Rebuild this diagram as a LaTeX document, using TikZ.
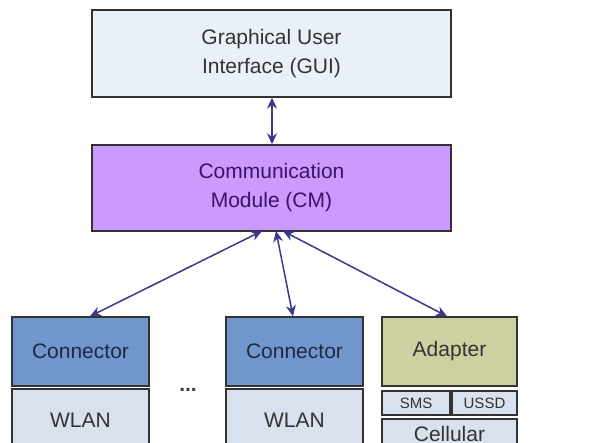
\documentclass[tikz,border=0pt]{standalone}
\usepackage{fontspec}
\setmainfont{Liberation Sans}
\usetikzlibrary{arrows.meta}
\definecolor{bordc}{HTML}{333333}
\definecolor{guifill}{HTML}{EAF0F7}
\definecolor{cmfill}{HTML}{CC99FF}
\definecolor{cmtext}{HTML}{3A1464}
\definecolor{confill}{HTML}{7096CC}
\definecolor{context}{HTML}{1E2A44}
\definecolor{wlanfill}{HTML}{D9E0EE}
\definecolor{adfill}{HTML}{CDD0A0}
\definecolor{arrc}{HTML}{3B3A8A}
\tikzset{
  box/.style={draw=bordc, line width=1.4pt, inner sep=0pt, align=center,
    font=\fontsize{21}{29}\selectfont, text=black!80},
  link/.style={draw=arrc, line width=1.5pt, {Stealth[length=11pt,width=10pt]}-{Stealth[length=11pt,width=10pt]}}
}
\begin{document}
\begin{tikzpicture}[x=1pt,y=-1pt]
\useasboundingbox (0,0) rectangle (592,443);
\fill[white] (0,0) rectangle (592,443);
% top boxes
\node[box, fill=guifill, minimum width=359pt, minimum height=87pt] (gui) at (271.5,53.5) {Graphical User\\Interface (GUI)};
\node[box, fill=cmfill, text=cmtext, minimum width=359pt, minimum height=86pt] (cm) at (271.5,188) {Communication\\Module (CM)};
% bottom left
\node[box, fill=confill, text=context, minimum width=137pt, minimum height=69pt] (con1) at (80.5,351.5) {Connector};
\node[box, fill=wlanfill, minimum width=137pt, minimum height=62pt] (wlan1) at (80.5,420) {WLAN};
\node[box, fill=confill, text=context, minimum width=137pt, minimum height=69pt] (con2) at (294.5,351.5) {Connector};
\node[box, fill=wlanfill, minimum width=137pt, minimum height=62pt] (wlan2) at (294.5,420) {WLAN};
\node[font=\bfseries\fontsize{21}{21}\selectfont, text=black!75] (dots) at (188,390) {...};
% adapter stack
\node[box, fill=adfill, minimum width=135pt, minimum height=69pt] (ad) at (449.5,351.5) {Adapter};
\node[box, fill=wlanfill, minimum width=68pt, minimum height=24pt, font=\fontsize{15}{15}\selectfont] (sms) at (416,403) {SMS};
\node[box, fill=wlanfill, minimum width=65pt, minimum height=24pt, font=\fontsize{15}{15}\selectfont] (ussd) at (484.5,403) {USSD};
\node[box, fill=wlanfill, minimum width=135pt, minimum height=30pt] (cell) at (449.5,434) {Cellular};
% connectors
\coordinate (c1) at (262,231);
\coordinate (c2) at (276,231);
\coordinate (c3) at (283,231);
\draw[link] (gui.south -| 272,0) -- (cm.north -| 272,0);
\draw[link] (c1) -- (con1.north -| 90,0);
\draw[link] (c2) -- (con2.north -| 293,0);
\draw[link] (c3) -- (ad.north -| 447,0);
\end{tikzpicture}
\end{document}
